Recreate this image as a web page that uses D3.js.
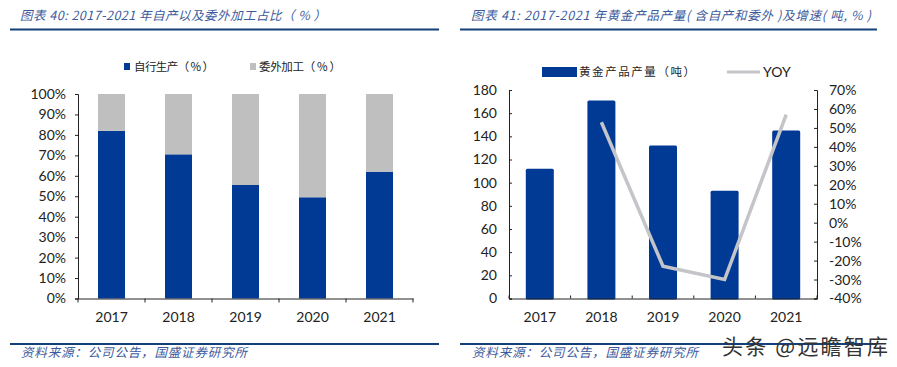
<!DOCTYPE html>
<html>
<head>
<meta charset="utf-8">
<script src="https://cdn.jsdelivr.net/npm/d3@7"></script>
<style>
  html, body { margin: 0; padding: 0; background: #fff; }
  svg { display: block; }
  text { font-family: Lato, "Liberation Sans", Arial, sans-serif; fill: #222; }
  .cjk { font-family: "Noto Sans CJK SC", sans-serif; font-weight: 400; }
  .axis path, .axis line { stroke: #222; }
</style>
</head>
<body>
<div id="chart"></div>
<script>
const years = ["2017", "2018", "2019", "2020", "2021"];
const ownShare = [82, 70.5, 55.5, 49.5, 62];
const outsourcedShare = [18, 29.5, 44.5, 50.5, 38];
const output = [112, 171, 132, 93, 145];
const yoy = [null, 53, -23, -30, 57];
const shareTicks = [0, 10, 20, 30, 40, 50, 60, 70, 80, 90, 100];
const outputTicks = [0, 20, 40, 60, 80, 100, 120, 140, 160, 180];
const yoyTicks = [-40, -30, -20, -10, 0, 10, 20, 30, 40, 50, 60, 70];

const blue = "#003a94";
const grey = "#bfbfbf";
const navy = "#13407a";
const titleBlue = "#3d5a9c";

const svg = d3.select("#chart").append("svg")
    .attr("width", 897)
    .attr("height", 367);

// header and footer of each panel
function frame(x1, x2, titleX, title, titleLen, sourceX) {
    svg.append("line").attr("x1", x1).attr("x2", x2).attr("y1", 29.5).attr("y2", 29.5)
        .attr("stroke", navy).attr("stroke-width", 2);
    svg.append("line").attr("x1", x1).attr("x2", x2).attr("y1", 344).attr("y2", 344)
        .attr("stroke", navy).attr("stroke-width", 2);
    svg.append("text").attr("class", "cjk").attr("x", titleX).attr("y", 20)
        .attr("font-size", 12.5).attr("font-style", "italic")
        .attr("textLength", titleLen).attr("lengthAdjust", "spacing")
        .style("fill", titleBlue).text(title);
    svg.append("text").attr("class", "cjk").attr("x", sourceX).attr("y", 357)
        .attr("font-size", 12.5).attr("font-style", "italic")
        .attr("textLength", 226).attr("lengthAdjust", "spacing")
        .style("fill", titleBlue).text("资料来源：公司公告，国盛证券研究所");
}
frame(10, 439, 20, "图表 40:  2017-2021 年自产以及委外加工占比（ % ）", 306, 21);
frame(460, 877, 471, "图表 41: 2017-2021 年黄金产品产量( 含自产和委外 )及增速( 吨, % )", 400, 472);

// left chart
const y1 = d3.scaleLinear().domain([0, 100]).range([298.5, 94]);
const stackX = d3.scaleBand().domain(years).range([78, 413]);
const barW1 = 27;

svg.append("g").selectAll("rect").data(years).enter().append("rect")
    .attr("x", d => stackX(d) + stackX.bandwidth() / 2 - barW1 / 2)
    .attr("y", (d, i) => y1(ownShare[i]))
    .attr("width", barW1)
    .attr("height", (d, i) => y1(0) - y1(ownShare[i]))
    .attr("fill", blue);
svg.append("g").selectAll("rect").data(years).enter().append("rect")
    .attr("x", d => stackX(d) + stackX.bandwidth() / 2 - barW1 / 2)
    .attr("y", (d, i) => y1(ownShare[i] + outsourcedShare[i]))
    .attr("width", barW1)
    .attr("height", (d, i) => y1(ownShare[i]) - y1(ownShare[i] + outsourcedShare[i]))
    .attr("fill", grey);

svg.append("g").attr("class", "axis")
    .attr("transform", "translate(78,0)")
    .call(d3.axisLeft(y1).tickValues(shareTicks).tickFormat(d => d + "%").tickSize(3).tickPadding(9));
const bottom1 = svg.append("g").attr("class", "axis")
    .attr("transform", "translate(0,298.5)")
    .call(d3.axisBottom(stackX).tickSize(0).tickPadding(14));
bottom1.selectAll(".boundary").data(d3.range(years.length + 1)).enter().append("line")
    .attr("class", "boundary")
    .attr("x1", i => 78 + i * stackX.step()).attr("x2", i => 78 + i * stackX.step())
    .attr("y1", 0).attr("y2", 4).attr("stroke", "#222");

// right chart
const x2 = d3.scaleBand().domain(years).range([509, 817]);
const y2 = d3.scaleLinear().domain([0, 180]).range([298.5, 90]);
const y3 = d3.scaleLinear().domain([-40, 70]).range([298.5, 90]);
const barW2 = 28;

svg.append("g").selectAll("rect").data(years).enter().append("rect")
    .attr("x", d => x2(d) + x2.bandwidth() / 2 - barW2 / 2)
    .attr("y", (d, i) => y2(output[i]))
    .attr("width", barW2)
    .attr("height", (d, i) => y2(0) - y2(output[i]) + 1)
    .attr("rx", 1.5)
    .attr("fill", blue);

const yoyLine = d3.line()
    .defined(d => d !== null)
    .x((d, i) => x2(years[i]) + x2.bandwidth() / 2)
    .y(d => y3(d));
svg.append("path").datum(yoy)
    .attr("d", yoyLine)
    .attr("fill", "none")
    .attr("stroke", "#c3c5c9")
    .attr("stroke-width", 3.5);

svg.append("g").attr("class", "axis")
    .attr("transform", "translate(509,0)")
    .call(d3.axisLeft(y2).tickValues(outputTicks).tickSize(-3).tickPadding(12));
svg.append("g").attr("class", "axis")
    .attr("transform", "translate(817,0)")
    .call(d3.axisRight(y3).tickValues(yoyTicks).tickFormat(d => d + "%").tickSize(-3).tickPadding(12));
const bottom2 = svg.append("g").attr("class", "axis")
    .attr("transform", "translate(0,298.5)")
    .call(d3.axisBottom(x2).tickSize(0).tickPadding(14));
bottom2.selectAll(".boundary").data(d3.range(years.length + 1)).enter().append("line")
    .attr("class", "boundary")
    .attr("x1", i => 509 + i * x2.step()).attr("x2", i => 509 + i * x2.step())
    .attr("y1", 0).attr("y2", -3).attr("stroke", "#222");

svg.selectAll(".axis text").attr("font-size", 14).style("fill", "#222");

// legends
svg.append("rect").attr("x", 124).attr("y", 63).attr("width", 6).attr("height", 7).attr("fill", blue);
svg.append("text").attr("class", "cjk").attr("x", 134).attr("y", 71).attr("font-size", 11.5)
    .attr("textLength", 80).attr("lengthAdjust", "spacing").text("自行生产（ % ）");
svg.append("rect").attr("x", 250).attr("y", 63).attr("width", 6).attr("height", 7).attr("fill", grey);
svg.append("text").attr("class", "cjk").attr("x", 259).attr("y", 71).attr("font-size", 11.5)
    .attr("textLength", 82).attr("lengthAdjust", "spacing").text("委外加工（ % ）");

svg.append("rect").attr("x", 542).attr("y", 67).attr("width", 35).attr("height", 10).attr("fill", blue);
svg.append("text").attr("class", "cjk").attr("x", 579).attr("y", 76).attr("font-size", 11.5)
    .attr("textLength", 116).attr("lengthAdjust", "spacing").text("黄金产品产量（吨）");
svg.append("line").attr("x1", 727).attr("x2", 760).attr("y1", 72).attr("y2", 72)
    .attr("stroke", "#c3c5c9").attr("stroke-width", 3);
svg.append("text").attr("x", 763).attr("y", 77).attr("font-size", 14).text("YOY");

// watermark
svg.append("text").attr("class", "cjk").attr("x", 722).attr("y", 354)
    .attr("font-size", 21).attr("textLength", 166).attr("lengthAdjust", "spacing")
    .style("fill", "#333")
    .text("头条 @远瞻智库");
</script>
</body>
</html>
